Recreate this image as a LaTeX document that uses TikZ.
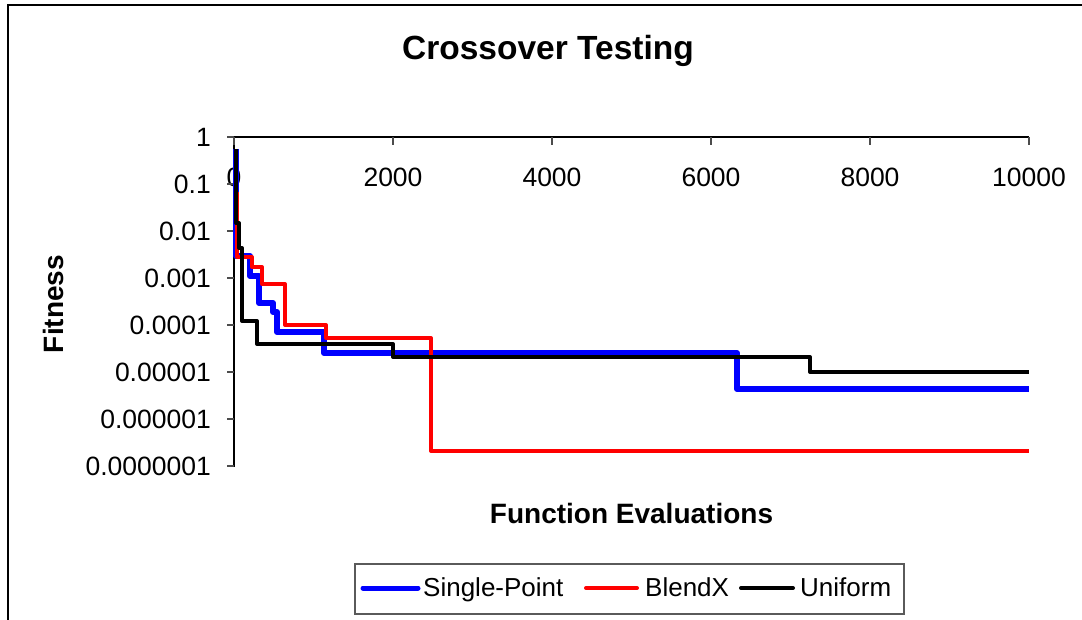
\documentclass[tikz,border=0pt]{standalone}
\usepackage{fontspec}
\setmainfont{Liberation Sans}
\definecolor{sblue}{RGB}{0,0,255}
\definecolor{sred}{RGB}{255,0,0}
\definecolor{legendgray}{RGB}{90,90,90}
\begin{document}
\begin{tikzpicture}[x=1pt,y=-1pt,
  frame/.style={line width=1.6pt,line cap=rect},
  axisline/.style={line width=1.3pt},
  tick/.style={line width=1.3pt,draw=black!70},
  ticklbl/.style={font=\fontsize{26.5}{28}\selectfont,inner sep=0pt},
  ylbl/.style={ticklbl,anchor=east},
  xlbl/.style={ticklbl,anchor=center},
  axtitle/.style={font=\bfseries\fontsize{28}{30}\selectfont,inner sep=0pt,anchor=base},
  charttitle/.style={font=\bfseries\fontsize{33.5}{35}\selectfont,inner sep=0pt,anchor=base},
  singlepoint/.style={draw=sblue,line width=6pt,line join=round},
  blendx/.style={draw=sred,line width=4pt,line join=round},
  uniform/.style={draw=black,line width=4pt,line join=round},
  legtext/.style={font=\fontsize{26}{28}\selectfont,inner sep=0pt,anchor=base west},
  legline/.style={line cap=round}
]
\useasboundingbox (0,0) rectangle (1082,619);
\fill[white] (0,0) rectangle (1082,619);

% outer chart frame (runs off the page to the right and bottom)
\draw[frame] (8,625) -- (8,5) -- (1090,5);

% title
\node[charttitle] (title) at (548,59) {Crossover Testing};

% axes
\draw[axisline] (234,467) -- (234,137) -- (1029,137);

% x ticks and labels (0 .. 10000, step 2000)
\foreach \v [count=\i from 0] in {0,2000,4000,6000,8000,10000}{
  \pgfmathsetmacro{\xx}{234+159*\i}
  \draw[tick] (\xx,137) -- (\xx,145);
  \node[xlbl] (xl\i) at (\xx,177) {\v};
}

% y ticks and labels (log scale, one decade = 47 units)
\foreach \lbl [count=\i from 0] in {1,0.1,0.01,0.001,0.0001,0.00001,0.000001,0.0000001}{
  \pgfmathsetmacro{\yy}{137+47*\i}
  \draw[tick] (227,\yy) -- (234,\yy);
  \node[ylbl] (yl\i) at (211,\yy) {\lbl};
}

% axis titles
\node[axtitle] (xtitle) at (631.5,523) {Function Evaluations};
\node[axtitle,rotate=90] (ytitle) at (63,304) {Fitness};

% data series
\draw[singlepoint] (236,149) -- (236,256) -- (250,256) -- (250,276) -- (259,276)
  -- (259,303) -- (273,303) -- (273,312) -- (277,312) -- (277,332) -- (324,332)
  -- (324,353) -- (737,353) -- (737,389) -- (1029,389);
\draw[blendx] (237,192) -- (237,257) -- (252,257) -- (252,267) -- (262,267)
  -- (262,284) -- (285,284) -- (285,325) -- (326,325) -- (326,338) -- (431,338)
  -- (431,451) -- (1029,451);
\draw[uniform] (236,149) -- (236,223) -- (239,223) -- (239,248) -- (242,248)
  -- (242,321) -- (257,321) -- (257,344) -- (393,344) -- (393,357) -- (810,357)
  -- (810,372) -- (1029,372);

% legend
\draw[draw=legendgray,line width=1.3pt,fill=white] (355,564) rectangle (904,614);
\coordinate (lb1) at (363,588); \coordinate (lb2) at (418,588);
\coordinate (lr1) at (586,588); \coordinate (lr2) at (637,588);
\coordinate (lk1) at (741,588); \coordinate (lk2) at (793,588);
\draw[singlepoint,legline,line width=5pt] (lb1) -- (lb2);
\draw[blendx,legline] (lr1) -- (lr2);
\draw[uniform,legline] (lk1) -- (lk2);
\node[legtext] (legsp) at (423,596) {Single-Point};
\node[legtext] (legbx) at (645,596) {BlendX};
\node[legtext] (legun) at (800,596) {Uniform};
\end{tikzpicture}
\end{document}
